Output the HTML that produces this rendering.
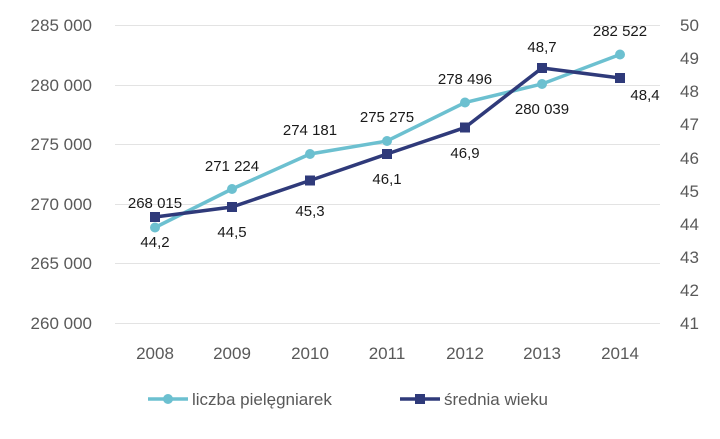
<!DOCTYPE html><html><head><meta charset="utf-8"><style>body{margin:0;background:#fff}</style></head><body>
<svg width="720" height="434" xmlns="http://www.w3.org/2000/svg" font-family="Liberation Sans, sans-serif">
<g stroke="#e3e3e3" stroke-width="1">
<line x1="115" x2="660" y1="25.5" y2="25.5"/><line x1="115" x2="660" y1="85.5" y2="85.5"/><line x1="115" x2="660" y1="144.5" y2="144.5"/><line x1="115" x2="660" y1="204.5" y2="204.5"/><line x1="115" x2="660" y1="263.5" y2="263.5"/><line x1="115" x2="660" y1="323.5" y2="323.5"/>
</g>
<g fill="#595959" font-size="17" text-anchor="end">
<text x="92" y="31">285 000</text><text x="92" y="91">280 000</text><text x="92" y="150">275 000</text><text x="92" y="210">270 000</text><text x="92" y="269">265 000</text><text x="92" y="329">260 000</text>
</g>
<g fill="#595959" font-size="17" text-anchor="start">
<text x="680" y="31">50</text><text x="680" y="64">49</text><text x="680" y="97">48</text><text x="680" y="130">47</text><text x="680" y="164">46</text><text x="680" y="197">45</text><text x="680" y="230">44</text><text x="680" y="263">43</text><text x="680" y="296">42</text><text x="680" y="329">41</text>
</g>
<g fill="#595959" font-size="17" text-anchor="middle">
<text x="155" y="359">2008</text><text x="232" y="359">2009</text><text x="310" y="359">2010</text><text x="387" y="359">2011</text><text x="465" y="359">2012</text><text x="542" y="359">2013</text><text x="620" y="359">2014</text>
</g>
<polyline fill="none" stroke="#6cc0d0" stroke-width="3.5" points="155,227.5 232,189 310,154 387,141 465,102.5 542,84 620,54.5"/>
<g fill="#6cc0d0"><circle cx="155" cy="227.5" r="5"/><circle cx="232" cy="189" r="5"/><circle cx="310" cy="154" r="5"/><circle cx="387" cy="141" r="5"/><circle cx="465" cy="102.5" r="5"/><circle cx="542" cy="84" r="5"/><circle cx="620" cy="54.5" r="5"/></g>
<polyline fill="none" stroke="#2f3a7a" stroke-width="3.5" points="155,217 232,207 310,180.5 387,154 465,127.5 542,68 620,78"/>
<g fill="#2f3a7a"><rect x="150" y="212" width="10" height="10"/><rect x="227" y="202" width="10" height="10"/><rect x="305" y="175.5" width="10" height="10"/><rect x="382" y="149" width="10" height="10"/><rect x="460" y="122.5" width="10" height="10"/><rect x="537" y="63" width="10" height="10"/><rect x="615" y="73" width="10" height="10"/></g>
<g fill="#1a1a1a" font-size="15" text-anchor="middle">
<text x="155" y="208">268 015</text><text x="232" y="171">271 224</text><text x="310" y="135">274 181</text><text x="387" y="122">275 275</text><text x="465" y="84">278 496</text><text x="542" y="114">280 039</text><text x="620" y="36">282 522</text>
<text x="155" y="247">44,2</text><text x="232" y="237">44,5</text><text x="310" y="216">45,3</text><text x="387" y="184">46,1</text><text x="465" y="158">46,9</text><text x="542" y="52">48,7</text><text x="645" y="100">48,4</text>
</g>
<line x1="148" x2="188" y1="399" y2="399" stroke="#6cc0d0" stroke-width="3.5"/><circle cx="168" cy="399" r="5" fill="#6cc0d0"/>
<text x="192" y="405" font-size="17" fill="#595959">liczba pielęgniarek</text>
<line x1="400" x2="440" y1="399" y2="399" stroke="#2f3a7a" stroke-width="3.5"/><rect x="415" y="394" width="10" height="10" fill="#2f3a7a"/>
<text x="444" y="405" font-size="17" fill="#595959">średnia wieku</text>
</svg>
</body></html>
